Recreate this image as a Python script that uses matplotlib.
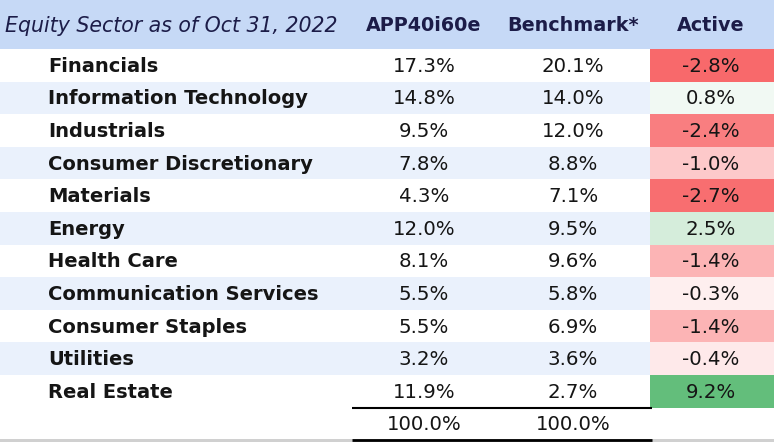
import numpy as np
import matplotlib.pyplot as plt
from matplotlib.colors import LinearSegmentedColormap, TwoSlopeNorm
from matplotlib.patches import Rectangle

title = 'Equity Sector as of Oct 31, 2022'
col_names = ['APP40i60e', 'Benchmark*', 'Active']
sectors = ['Financials', 'Information Technology', 'Industrials',
           'Consumer Discretionary', 'Materials', 'Energy', 'Health Care',
           'Communication Services', 'Consumer Staples', 'Utilities',
           'Real Estate']
portfolio = [17.3, 14.8, 9.5, 7.8, 4.3, 12.0, 8.1, 5.5, 5.5, 3.2, 11.9]
benchmark = [20.1, 14.0, 12.0, 8.8, 7.1, 9.5, 9.6, 5.8, 6.9, 3.6, 2.7]
active = [-2.8, 0.8, -2.4, -1.0, -2.7, 2.5, -1.4, -0.3, -1.4, -0.4, 9.2]
totals = [100.0, 100.0]

W, H = 774, 442
header_h = 49
row_h = 32.6
col_x = [424, 573, 711]
active_left = 650
label_x = 48

fig = plt.figure(figsize=(W / 100, H / 100), dpi=100)
ax = fig.add_axes([0, 0, 1, 1])
ax.set_xlim(0, W)
ax.set_ylim(H, 0)
ax.axis('off')

cmap = LinearSegmentedColormap.from_list('cs', ['#f8696b', '#ffffff', '#63be7b'])
norm = TwoSlopeNorm(vmin=min(active), vcenter=0, vmax=max(active))

hdr_color = '#1c1c48'
txt_color = '#151515'

# header
ax.add_patch(Rectangle((0, 0), W, header_h, color='#c6d9f6', lw=0))
ax.text(5, header_h / 2 + 1, title, style='italic', fontsize=14.8, color=hdr_color,
        va='center', ha='left')
for x, name in zip(col_x, col_names):
    ax.text(x, header_h / 2 + 1, name, fontweight='bold', fontsize=13.8,
            color=hdr_color, va='center', ha='center')

# body rows
for i, name in enumerate(sectors):
    y0 = header_h + i * row_h
    yc = y0 + row_h / 2 + 1
    if i % 2 == 1:
        ax.add_patch(Rectangle((0, y0), active_left, row_h, color='#eaf1fc', lw=0))
    ax.add_patch(Rectangle((active_left, y0), W - active_left, row_h,
                           color=cmap(norm(active[i])), lw=0))
    ax.text(label_x, yc, name, fontweight='bold', fontsize=14, color=txt_color,
            va='center', ha='left')
    for x, v in zip(col_x, [portfolio[i], benchmark[i], active[i]]):
        ax.text(x, yc, f'{v:.1f}%', fontsize=14.2, color=txt_color,
                va='center', ha='center')

# totals row
y_tot = header_h + len(sectors) * row_h
ax.plot([352, 652], [y_tot, y_tot], color='black', lw=1.5, solid_capstyle='butt')
for x, v in zip(col_x[:2], totals):
    ax.text(x, y_tot + 17, f'{v:.1f}%', fontsize=14.2, color=txt_color,
            va='center', ha='center')
ax.add_patch(Rectangle((0, 439), W, 3, color='#d0d0d0', lw=0))
ax.plot([352, 652], [440, 440], color='black', lw=2, solid_capstyle='butt')

fig.savefig('out.png', dpi=100)
